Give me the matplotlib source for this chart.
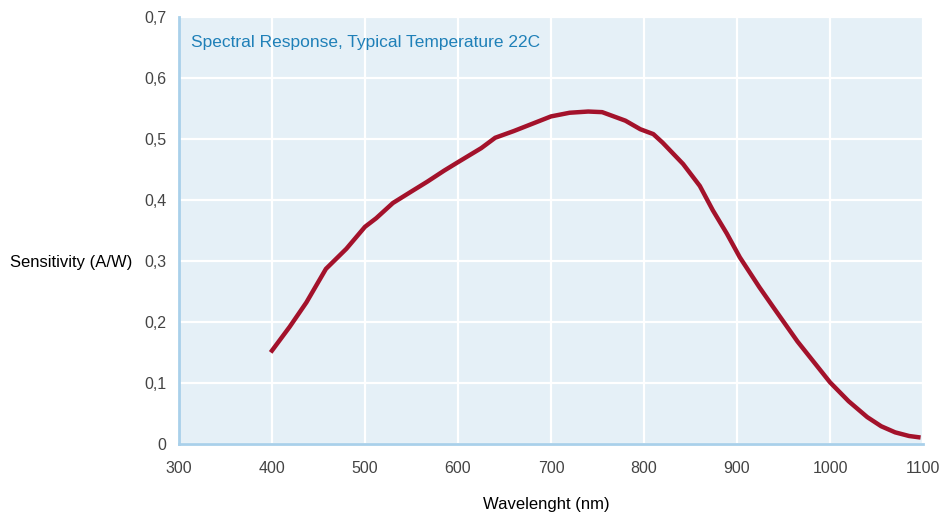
import matplotlib
matplotlib.use("Agg")
import matplotlib.pyplot as plt

# curve
wavelength = [400, 419, 437, 458, 480, 500, 512, 530, 550, 567, 585, 600, 625,
              640, 660, 675, 700, 720, 740, 755, 780, 796, 810, 820, 842, 860,
              874, 889, 903, 924, 940, 965, 1000, 1020, 1040, 1055, 1070, 1085,
              1095]
sensitivity = [0.153, 0.192, 0.232, 0.287, 0.320, 0.356, 0.370, 0.395, 0.414,
               0.430, 0.448, 0.462, 0.485, 0.502, 0.513, 0.522, 0.537, 0.543,
               0.545, 0.544, 0.530, 0.516, 0.508, 0.494, 0.459, 0.423, 0.383,
               0.345, 0.306, 0.257, 0.222, 0.168, 0.101, 0.070, 0.044, 0.029,
               0.019, 0.013, 0.011]

x_ticks = [300, 400, 500, 600, 700, 800, 900, 1000, 1100]
y_ticks = [0, 0.1, 0.2, 0.3, 0.4, 0.5, 0.6, 0.7]
y_labels = ["0", "0,1", "0,2", "0,3", "0,4", "0,5", "0,6", "0,7"]

plt.rcParams["font.family"] = ["Liberation Sans", "DejaVu Sans"]

fig = plt.figure(figsize=(9.39, 5.15), dpi=100)
ax = fig.add_axes([0.1906, 0.138, 0.7924, 0.829])
ax.set_facecolor("#e5f0f7")

ax.plot(wavelength, sensitivity, color="#a3122b", linewidth=3.2,
        solid_joinstyle="round", zorder=3)

ax.set_xlim(300, 1100)
ax.set_ylim(0, 0.7)
ax.set_xticks(x_ticks)
ax.set_yticks(y_ticks)
ax.set_yticklabels(y_labels)
ax.tick_params(length=0, labelsize=11.5, colors="#444444")
ax.tick_params(axis="x", pad=12)
ax.tick_params(axis="y", pad=9)
ax.grid(color="white", linewidth=1.6)
ax.set_axisbelow(True)

for side in ("top", "right"):
    ax.spines[side].set_visible(False)
for side in ("left", "bottom"):
    ax.spines[side].set_color("#a9d0ea")
    ax.spines[side].set_linewidth(2)

ax.text(0.016, 0.94, "Spectral Response, Typical Temperature 22C",
        transform=ax.transAxes, color="#1f80b8", fontsize=12.5,
        ha="left", va="center")

fig.text(0.011, 0.491, "Sensitivity (A/W)", fontsize=12, color="black",
         ha="left", va="center")
fig.text(0.582, 0.02, "Wavelenght (nm)", fontsize=12, color="black",
         ha="center", va="center")

fig.savefig("out.png", dpi=100)
